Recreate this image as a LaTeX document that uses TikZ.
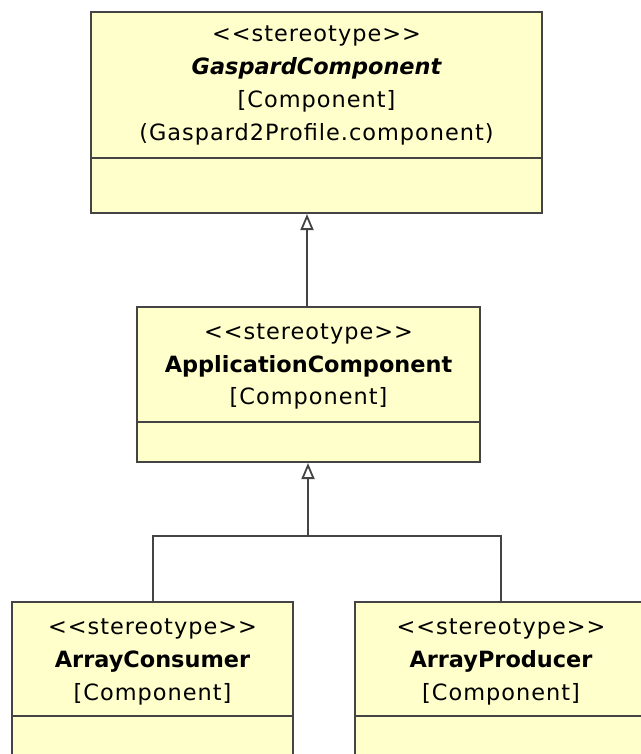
\documentclass[tikz,border=0pt]{standalone}
\usepackage{fontspec}
\setmainfont{DejaVu Sans}[LetterSpace=4.5]
\newfontfamily\namefont{DejaVu Sans}
\usetikzlibrary{arrows.meta}
\definecolor{boxfill}{RGB}{255,255,204}
\definecolor{boxline}{RGB}{68,68,68}
\newcommand{\umlname}[1]{{\namefont\bfseries #1}}
\tikzset{
  umlbox/.style={draw=boxline, fill=boxfill, line width=2bp, rectangle, inner sep=0pt},
  divider/.style={draw=boxline, line width=2bp},
  txt/.style={font=\fontsize{22.5}{33}\selectfont, align=center, inner sep=0pt, text=black},
  link/.style={draw=boxline, line width=2bp},
  gen/.style={link, -{Triangle[open, length=16bp, width=13bp, line width=1.8bp]}}
}
\begin{document}
\begin{tikzpicture}[x=1bp, y=-1bp]
\useasboundingbox (0,0) rectangle (641,754);
\clip (0,0) rectangle (641,754);
% boxes
\node[umlbox, minimum width=451bp, minimum height=201bp] (gc) at (316.5,112.5) {};
\node[umlbox, minimum width=343bp, minimum height=155bp] (ac) at (308.5,384.5) {};
\node[umlbox, minimum width=281bp, minimum height=200bp] (ca) at (152.5,702) {};
\node[umlbox, minimum width=292bp, minimum height=200bp] (ap) at (501,702) {};
% dividers
\draw[divider] (gc.west |- 0,158) -- (gc.east |- 0,158);
\draw[divider] (ac.west |- 0,421.5) -- (ac.east |- 0,421.5);
\draw[divider] (ca.west |- 0,716) -- (ca.east |- 0,716);
\draw[divider] (ap.west |- 0,716) -- (ap.east |- 0,716);
% texts
\node[txt] (gct) at (316.5,85.5) {<{}<stereotype>{}>\\\umlname{\itshape GaspardComponent}\\{}[Component]\\(Gaspard2Profile.component)};
\node[txt] (act) at (308.5,366.5) {<{}<stereotype>{}>\\\umlname{ApplicationComponent}\\{}[Component]};
\node[txt] (cat) at (152.5,662) {<{}<stereotype>{}>\\\umlname{ArrayConsumer}\\{}[Component]};
\node[txt] (apt) at (501,662) {<{}<stereotype>{}>\\\umlname{ArrayProducer}\\{}[Component]};
% connectors
\draw[gen] (ac.north -| 307,0) -- (gc.south -| 307,0);
\coordinate (j) at (308,536);
\draw[link] (ca.north) |- (j) -| (ap.north);
\draw[gen] (j) -- (j |- ac.south);
\end{tikzpicture}
\end{document}
